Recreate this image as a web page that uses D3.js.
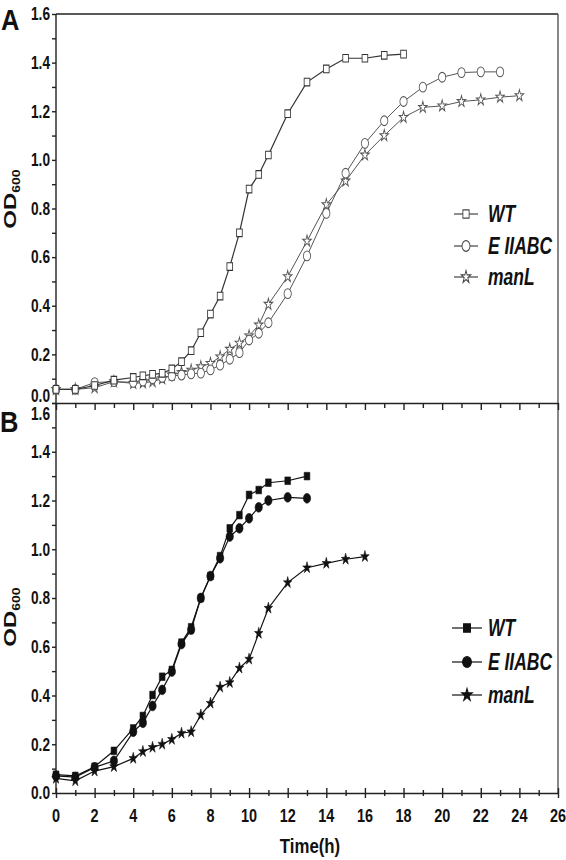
<!DOCTYPE html>
<html><head><meta charset="utf-8">
<script src="https://cdn.jsdelivr.net/npm/d3@7"></script>
<style>
html,body{margin:0;padding:0;background:#fff;}
svg{display:block;}
</style></head>
<body>
<svg id="c" width="566" height="860"></svg>
<script>
// ---------- DATA ----------
const timeA = [0,1,2,3,4,4.5,5,5.5,6,6.5,7,7.5,8,8.5,9,9.5,10,10.5,11,12,13,14,15,16,17,18,19,20,21,22,23,24];
const wtA   = [0.056,0.056,0.072,0.094,0.105,0.112,0.118,0.122,0.14,0.17,0.215,0.289,0.366,0.44,0.561,0.70,0.88,0.94,1.02,1.19,1.32,1.374,1.418,1.418,1.43,1.435];
const eA    = [0.056,0.056,0.084,0.088,0.085,0.09,0.10,0.105,0.111,0.115,0.12,0.123,0.136,0.156,0.18,0.207,0.259,0.287,0.33,0.45,0.605,0.78,0.945,1.068,1.161,1.24,1.299,1.34,1.359,1.362,1.362];
const manA  = [0.056,0.056,0.063,0.088,0.081,0.083,0.088,0.10,0.115,0.126,0.135,0.149,0.163,0.19,0.221,0.246,0.276,0.321,0.406,0.52,0.666,0.816,0.913,1.02,1.10,1.175,1.216,1.222,1.24,1.247,1.258,1.264];

const timeB = [0,1,2,3,4,4.5,5,5.5,6,6.5,7,7.5,8,8.5,9,9.5,10,10.5,11,12,13,14,15,16];
const wtB   = [0.075,0.07,0.108,0.173,0.265,0.316,0.402,0.477,0.505,0.617,0.68,0.80,0.89,0.972,1.086,1.14,1.223,1.243,1.273,1.281,1.30];
const eB    = [0.07,0.065,0.105,0.132,0.251,0.288,0.357,0.423,0.498,0.611,0.67,0.80,0.89,0.963,1.052,1.086,1.127,1.172,1.2,1.213,1.209];
const manB  = [0.06,0.05,0.09,0.108,0.142,0.17,0.187,0.2,0.22,0.245,0.251,0.32,0.368,0.434,0.453,0.512,0.549,0.655,0.758,0.863,0.924,0.942,0.959,0.97];

const seriesNames = ["WT","E IIABC","manL"];
const xTicks = [0,2,4,6,8,10,12,14,16,18,20,22,24,26];
const yTicks = [0.0,0.2,0.4,0.6,0.8,1.0,1.2,1.4,1.6];

// ---------- LAYOUT ----------
const svg = d3.select("#c");
const FONT = "'Liberation Sans',Arial,sans-serif";
const NARROW = 0.76;
const L = 56, R = 558;
const A = {top:14, bottom:403};
const B = {top:403, bottom:793};

const x = d3.scaleLinear().domain([0,26]).range([L,R]);
const yA = d3.scaleLinear().domain([0,1.6]).range([A.bottom,A.top]);
const yB = d3.scaleLinear().domain([0,1.6]).range([B.bottom,B.top]);

const axisColor = "#222";

// condensed text helper
function ntext(px, py, str, o){
  o = o||{};
  return svg.append("text")
    .attr("transform",`translate(${px},${py}) scale(${o.sx||NARROW},1)`)
    .attr("text-anchor",o.anchor||"start")
    .attr("dy",o.dy||null)
    .attr("font-family",FONT).attr("font-weight",o.weight||"bold")
    .attr("font-style",o.style||"normal")
    .attr("font-size",o.size||18).attr("fill","#111").text(str);
}

function yAxis(y, opts){
  const g = svg.append("g").attr("transform",`translate(${L},0)`);
  g.call(d3.axisLeft(y).tickValues(d3.range(0,17).map(i=>i/10)).tickSize(4).tickFormat(""));
  g.selectAll("path,line").attr("stroke",axisColor).attr("stroke-width",1.4);
  g.select(".domain").attr("d",`M0,${y(0)}V${y(1.6)}`);
  yTicks.forEach(v=>{
    let dy = 0;
    if (opts.shift && opts.shift[v]!==undefined) dy = opts.shift[v];
    ntext(50, y(v)+dy, v.toFixed(1), {anchor:"end", dy:"0.35em", size:18});
  });
}
yAxis(yA,{shift:{0:-7}});
yAxis(yB,{shift:{1.6:11}});

// frame A: top and right
svg.append("line").attr("x1",L).attr("x2",R).attr("y1",A.top).attr("y2",A.top).attr("stroke",axisColor).attr("stroke-width",1.4);
svg.append("line").attr("x1",R).attr("x2",R).attr("y1",A.top).attr("y2",B.bottom).attr("stroke","#555").attr("stroke-width",1.4);

// x axis of A (ticks down, no labels)
const gxA = svg.append("g").attr("transform",`translate(0,${A.bottom})`);
gxA.call(d3.axisBottom(x).tickValues(d3.range(0,27)).tickFormat("").tickSize(6).tickSizeOuter(0));
gxA.selectAll("line").attr("y2",d=>d%2===0?7:5);
gxA.selectAll("path,line").attr("stroke",axisColor).attr("stroke-width",1.4);

// x axis of B (labels)
const gxB = svg.append("g").attr("transform",`translate(0,${B.bottom})`);
gxB.call(d3.axisBottom(x).tickValues(d3.range(0,27)).tickFormat("").tickSizeOuter(0));
gxB.selectAll("line").attr("y1",d=>d%2===0?-5:-3).attr("y2",d=>d%2===0?5:3);
gxB.selectAll("path,line").attr("stroke",axisColor).attr("stroke-width",1.4);
xTicks.forEach(t=>{
  ntext(x(t), 822, String(t), {anchor:"middle", size:19});
});
ntext(310, 853, "Time(h)", {anchor:"middle", size:21, sx:0.8});

// panel letters
ntext(1, 30, "A", {size:30, sx:0.85});
ntext(0, 432, "B", {size:30, sx:0.85});

// OD600 labels
function odLabel(cy){
  const t = svg.append("text").attr("transform",`translate(16,${cy}) scale(0.72,1) rotate(-90)`)
    .attr("text-anchor","middle").attr("font-family",FONT)
    .attr("font-weight","bold").attr("font-size",24).attr("fill","#111");
  t.append("tspan").text("OD");
  t.append("tspan").attr("font-size",14).attr("dy",6).text("600");
}
odLabel(199);
odLabel(617);

// ---------- MARKERS ----------
const sq = d3.symbol().type(d3.symbolSquare).size(48)();
const circ = d3.symbol().type(d3.symbolCircle).size(62)();
const star = d3.symbol().type(d3.symbolStar).size(34)();
const shapes = [sq,circ,star];

function drawSeries(times, vals, y, shape, filled, lineColor, lw){
  const pts = vals.map((v,i)=>[x(times[i]),y(v)]);
  svg.append("path").attr("d",d3.line()(pts)).attr("fill","none")
    .attr("stroke",lineColor).attr("stroke-width",lw);
  svg.append("g").selectAll("path").data(pts).join("path")
    .attr("d",shape).attr("transform",d=>`translate(${d[0]},${d[1]}) scale(0.82,1.1)`)
    .attr("fill",filled?"#111":"#fff").attr("stroke",filled?"#111":lineColor).attr("stroke-width",filled?0.6:1);
}

// panel A (open markers)
drawSeries(timeA, manA, yA, star, false, "#555", 1);
drawSeries(timeA, eA, yA, circ, false, "#555", 1);
drawSeries(timeA, wtA, yA, sq, false, "#333", 1.2);
// panel B (filled markers)
drawSeries(timeB, manB, yB, star, true, "#111", 1.2);
drawSeries(timeB, eB, yB, circ, true, "#111", 1.2);
drawSeries(timeB, wtB, yB, sq, true, "#111", 1.2);

// ---------- LEGENDS ----------
function legend(ys, x1, x2, filled, lineColor){
  seriesNames.forEach((name,i)=>{
    const yy = ys[i];
    svg.append("line").attr("x1",x1).attr("x2",x2).attr("y1",yy).attr("y2",yy)
      .attr("stroke",lineColor).attr("stroke-width",1.2);
    svg.append("path").attr("d",shapes[i]).attr("transform",`translate(${(x1+x2)/2},${yy}) scale(${filled?1:0.9},1.2)`)
      .attr("fill",filled?"#111":"#fff").attr("stroke",filled?"#111":lineColor).attr("stroke-width",1);
    ntext(488, yy, name, {dy:"0.36em", style:"italic", weight:"bold", size:23, sx:0.76});
  });
}
legend([214,246,277], 454, 478, false, "#444");
legend([628,662,695], 452, 482, true, "#111");
</script>
</body></html>
